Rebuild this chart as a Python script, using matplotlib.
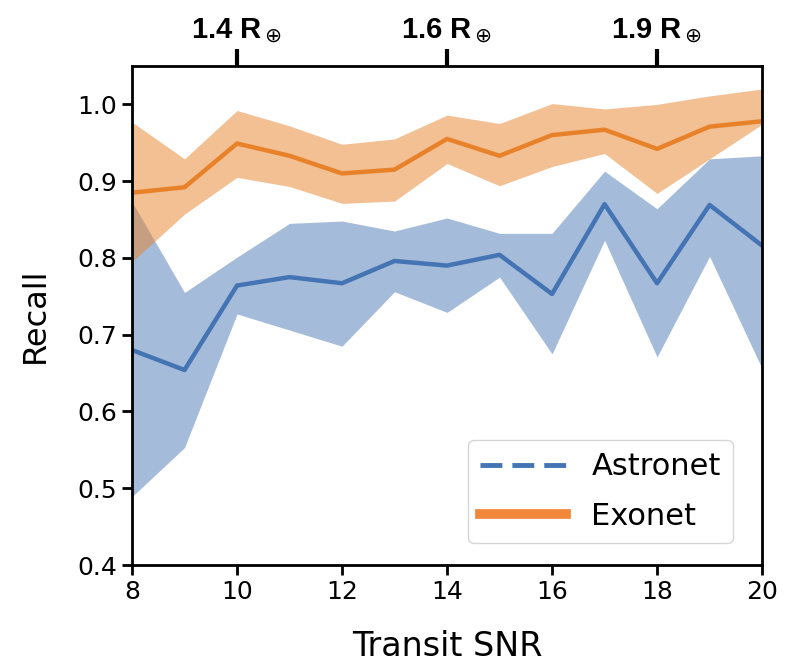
import numpy as np
import matplotlib
matplotlib.use("Agg")
import matplotlib.pyplot as plt
from matplotlib.lines import Line2D

plt.rcParams['font.family'] = ['DejaVu Sans']

# recall vs transit SNR, mean and spread for both networks
snr = [8, 9, 10, 11, 12, 13, 14, 15, 16, 17, 18, 19, 20]

exo_mean = [0.885, 0.892, 0.949, 0.933, 0.910, 0.915, 0.955, 0.933, 0.960, 0.967, 0.942, 0.971, 0.978]
exo_hi = [0.977, 0.929, 0.992, 0.972, 0.948, 0.955, 0.986, 0.975, 1.001, 0.994, 1.000, 1.011, 1.020]
exo_lo = [0.795, 0.857, 0.905, 0.893, 0.871, 0.874, 0.923, 0.894, 0.919, 0.936, 0.884, 0.929, 0.974]

astro_mean = [0.680, 0.654, 0.764, 0.775, 0.767, 0.796, 0.790, 0.804, 0.753, 0.870, 0.767, 0.869, 0.816]
astro_hi = [0.873, 0.755, 0.801, 0.845, 0.848, 0.835, 0.852, 0.832, 0.832, 0.913, 0.864, 0.929, 0.933]
astro_lo = [0.489, 0.553, 0.727, 0.706, 0.685, 0.756, 0.729, 0.775, 0.675, 0.823, 0.671, 0.802, 0.656]

radius_snr = [10, 14, 18]
radius_labels = [r"1.4 R$_\oplus$", r"1.6 R$_\oplus$", r"1.9 R$_\oplus$"]

blue = "#4474b4"
orange = "#e8822a"

fig = plt.figure(figsize=(7.92, 6.63), dpi=100)
ax = fig.add_axes([0.1667, 0.1478, 0.7955, 0.7527])

ax.fill_between(snr, astro_lo, astro_hi, color="#4a78b5", alpha=0.5, lw=0)
ax.fill_between(snr, exo_lo, exo_hi, color="#e8822a", alpha=0.5, lw=0)
ax.plot(snr, astro_mean, color=blue, lw=3.2)
ax.plot(snr, exo_mean, color=orange, lw=3.2)

ax.set_xlim(8, 20)
ax.set_ylim(0.4, 1.05)
ax.set_xticks([8, 10, 12, 14, 16, 18, 20])
ax.set_yticks([0.4, 0.5, 0.6, 0.7, 0.8, 0.9, 1.0])
ax.tick_params(labelsize=18, width=2, length=7)
for s in ax.spines.values():
    s.set_linewidth(2)
ax.set_xlabel("Transit SNR", fontsize=24, labelpad=19)
ax.set_ylabel("Recall", fontsize=23, labelpad=19)

# planet radius markers on top
top = ax.twiny()
top.set_xlim(ax.get_xlim())
top.set_xticks(radius_snr)
top.set_xticklabels(radius_labels, fontsize=21, fontweight="bold",
                    family=['Liberation Sans', 'DejaVu Sans'])
top.tick_params(width=3, length=12, pad=3)

# legend uses proxy lines
handles = [Line2D([], [], color=blue, lw=3.5, ls=(0, (4.5, 2.06))),
           Line2D([], [], color="#f0873a", lw=7, solid_capstyle="projecting")]
ax.legend(handles, ["Astronet", "Exonet"], loc="lower right", fontsize=22,
          handlelength=2.8, handletextpad=0.85, labelspacing=0.67,
          borderaxespad=0, bbox_to_anchor=(0.954, 0.044))

plt.savefig("out.png", dpi=100)
